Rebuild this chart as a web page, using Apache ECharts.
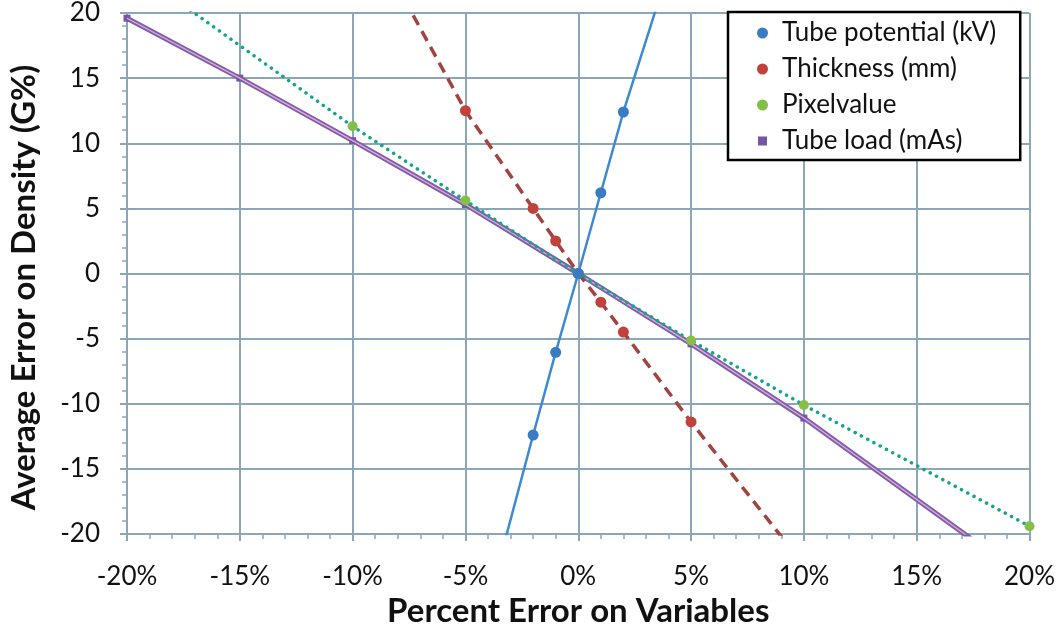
<!DOCTYPE html>
<html>
<head>
<meta charset="utf-8">
<script src="https://cdn.jsdelivr.net/npm/echarts@6/dist/echarts.min.js"></script>
<style>html,body{margin:0;padding:0;background:#fff}#c{width:1058px;height:634px}</style>
</head>
<body>
<div id="c"></div>
<script>
// Data (x = percent error on variable, y = average error on density G%)
const seriesNames = ['Tube potential (kV)', 'Thickness (mm)', 'Pixelvalue', 'Tube load (mAs)'];
const tubePotentialX = [-5, -2, -1, 0, 1, 2, 5];
const tubePotentialY = [-31.9, -12.4, -6.05, 0, 6.2, 12.4, 28.8];
const thicknessX = [-10, -5, -2, -1, 0, 1, 2, 5, 10];
const thicknessY = [28.3, 12.5, 5.0, 2.5, 0, -2.2, -4.5, -11.4, -22.4];
const pixelX = [-20, -10, -5, 0, 5, 10, 20];
const pixelY = [23.7, 11.3, 5.6, 0, -5.15, -10.1, -19.4];
const tubeLoadX = [-20, -15, -10, -5, 0, 5, 10, 20];
const tubeLoadY = [19.6, 15.0, 10.2, 5.3, 0, -5.4, -11.1, -23.6];
const xTicks = [-20, -15, -10, -5, 0, 5, 10, 15, 20];
const yTicks = [-20, -15, -10, -5, 0, 5, 10, 15, 20];

const pairs = (xs, ys) => xs.map((x, i) => [x, ys[i]]);

const FONT = 'Lato';
const gridColor = '#8ba6b8';

const chart = echarts.init(document.getElementById('c'), null, {renderer: 'canvas'});
chart.setOption({
  backgroundColor: '#ffffff',
  animation: false,
  grid: {left: 127, right: 28, top: 13, bottom: 100, containLabel: false},
  xAxis: {
    type: 'value', min: xTicks[0], max: xTicks[xTicks.length - 1], interval: 5,
    name: 'Percent Error on Variables', nameLocation: 'middle', nameGap: 61,
    nameTextStyle: {fontFamily: FONT, fontWeight: 'bold', fontSize: 33, color: '#111'},
    axisLine: {show: true, onZero: false, lineStyle: {color: gridColor, width: 2}},
    axisTick: {show: true, inside: false, length: 7, lineStyle: {color: gridColor, width: 2}},
    minorTick: {show: true, splitNumber: 5, length: 5, lineStyle: {color: gridColor, width: 1.5}},
    axisLabel: {fontFamily: FONT, fontSize: 26, color: '#111', margin: 30, formatter: '{value}%'},
    splitLine: {show: true, lineStyle: {color: gridColor, width: 2}}
  },
  yAxis: {
    type: 'value', min: yTicks[0], max: yTicks[yTicks.length - 1], interval: 5,
    name: 'Average Error on Density (G%)', nameLocation: 'middle', nameGap: 86, nameRotate: 90,
    nameTextStyle: {fontFamily: FONT, fontWeight: 'bold', fontSize: 33, color: '#111', padding: [0, 28, 0, 0]},
    axisLine: {show: true, onZero: false, lineStyle: {color: gridColor, width: 2}},
    axisTick: {show: true, inside: false, length: 7, lineStyle: {color: gridColor, width: 2}},
    minorTick: {show: true, splitNumber: 5, length: 5, lineStyle: {color: gridColor, width: 1.5}},
    axisLabel: {fontFamily: FONT, fontSize: 26, color: '#111', margin: 27},
    splitLine: {show: true, lineStyle: {color: gridColor, width: 2}}
  },
  legend: {
    orient: 'vertical', left: 728, top: 12,
    backgroundColor: '#fff', borderColor: '#000', borderWidth: 2.5,
    padding: [8, 24, 6, 28], itemGap: 10, itemWidth: 11, itemHeight: 11,
    textStyle: {fontFamily: FONT, fontSize: 26, color: '#111', padding: [0, 0, 0, 9]},
    data: [
      {name: seriesNames[0], icon: 'circle'},
      {name: seriesNames[1], icon: 'circle'},
      {name: seriesNames[2], icon: 'circle'},
      {name: seriesNames[3], icon: 'rect', itemStyle: {borderWidth: 2, borderColor: '#fff'}}
    ]
  },
  series: [
    {
      name: seriesNames[3], type: 'line', data: pairs(tubeLoadX, tubeLoadY), z: 2,
      symbol: 'rect', symbolSize: 7, showAllSymbol: true,
      lineStyle: {color: '#7a5fae', width: 5},
      itemStyle: {color: '#7357a6'}
    },
    {
      name: 'tubeLoadInner', type: 'line', data: pairs(tubeLoadX, tubeLoadY), z: 3,
      symbol: 'none', silent: true,
      lineStyle: {color: '#e9a9cf', width: 1.3},
      itemStyle: {color: '#e9a9cf'}
    },
    {
      name: seriesNames[2], type: 'line', data: pairs(pixelX, pixelY), z: 4,
      symbol: 'circle', symbolSize: 10,
      lineStyle: {color: '#14a58c', width: 3.5, type: [0.1, 7], cap: 'round'},
      itemStyle: {color: '#86bf45'}
    },
    {
      name: seriesNames[1], type: 'line', data: pairs(thicknessX, thicknessY), z: 5,
      symbol: 'circle', symbolSize: 11,
      lineStyle: {color: '#a1443f', width: 3.5, type: [11, 7]},
      itemStyle: {color: '#c2413a'}
    },
    {
      name: seriesNames[0], type: 'line', data: pairs(tubePotentialX, tubePotentialY), z: 6,
      symbol: 'circle', symbolSize: 11,
      lineStyle: {color: '#3d8ad0', width: 2.5},
      itemStyle: {color: '#3a7cc4'}
    }
  ]
});
</script>
</body>
</html>
